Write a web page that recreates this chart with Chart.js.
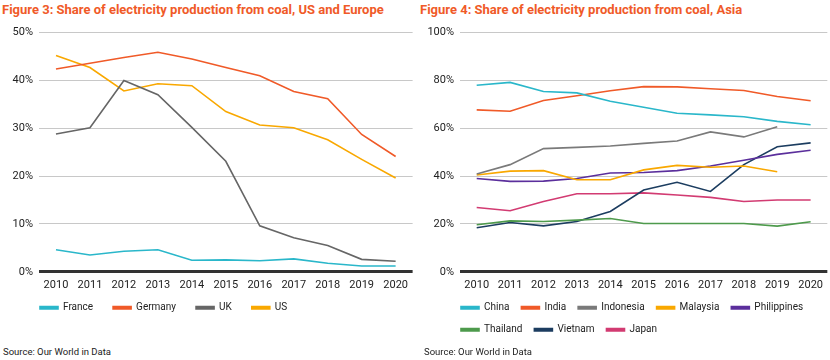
<!DOCTYPE html>
<html>
<head>
<meta charset="utf-8">
<script src="https://cdn.jsdelivr.net/npm/chart.js@4.4.0/dist/chart.umd.min.js"></script>
<style>
  body { margin: 0; width: 830px; height: 360px; background: #fff; position: relative; overflow: hidden; font-family: Roboto, sans-serif; }
  .title { position: absolute; top: 2px; font-family: Roboto, sans-serif; font-weight: bold; font-size: 13px; color: #f05a28; white-space: nowrap; }
  .source { position: absolute; top: 346px; font-size: 9.5px; color: #222; }
  .box { position: absolute; top: 20px; width: 415px; }
</style>
</head>
<body>
<div class="title" style="left:2px">Figure 3: Share of electricity production from coal, US and Europe</div>
<div class="title" style="left:420px">Figure 4: Share of electricity production from coal, Asia</div>
<div class="box" style="left:0; height:319px"><canvas id="leftChart"></canvas></div>
<div class="box" style="left:415px; height:333px"><canvas id="rightChart"></canvas></div>
<div class="source" style="left:3px">Source: Our World in Data</div>
<div class="source" style="left:424px">Source: Our World in Data</div>
<script>
const years = ["2010", "2011", "2012", "2013", "2014", "2015", "2016", "2017", "2018", "2019", "2020"];

// Figure 3 (% share)
const france = [4.6, 3.5, 4.3, 4.6, 2.4, 2.5, 2.3, 2.7, 1.8, 1.2, 1.2];
const germany = [42.4, 43.6, 44.8, 45.9, 44.5, 42.7, 41.0, 37.7, 36.2, 28.7, 24.1];
const uk = [28.8, 30.1, 40.0, 37.0, 30.2, 23.1, 9.6, 7.1, 5.5, 2.6, 2.2];
const us = [45.2, 42.7, 37.8, 39.3, 38.9, 33.5, 30.7, 30.1, 27.6, 23.5, 19.6];

// Figure 4 (% share)
const china = [78.0, 79.2, 75.4, 74.8, 71.3, 68.8, 66.3, 65.6, 64.8, 62.9, 61.5];
const india = [67.7, 67.1, 71.6, 73.6, 75.7, 77.4, 77.3, 76.5, 75.8, 73.3, 71.5];
const indonesia = [40.9, 44.8, 51.5, 52.0, 52.6, 53.7, 54.7, 58.5, 56.4, 60.6, null];
const malaysia = [40.5, 42.1, 42.3, 38.5, 38.5, 42.6, 44.5, 43.7, 44.2, 41.8, null];
const philippines = [39.0, 37.8, 37.9, 39.0, 41.3, 41.5, 42.3, 44.2, 46.6, 49.1, 50.8];
const thailand = [19.7, 21.3, 21.0, 21.6, 22.3, 20.2, 20.2, 20.2, 20.2, 19.1, 20.9];
const vietnam = [18.4, 20.6, 19.2, 21.0, 25.2, 34.2, 37.4, 33.6, 44.8, 52.3, 53.9];
const japan = [26.9, 25.5, 29.4, 32.6, 32.6, 33.0, 32.1, 31.1, 29.4, 30.0, 30.0];

const tickFont = { family: "Roboto", size: 11 };
const legendFont = { family: "Roboto", size: 10 };

// moves the legend so its first item starts at the plot's left edge,
// and its first row sits just under the year labels
const legendNudge = {
    id: "legendNudge",
    afterLayout(chart) {
        const lg = chart.legend;
        const pad = lg.options.labels.padding;
        const dx = chart.chartArea.left + 1 - (lg.left + pad);
        const dy = chart.chartArea.bottom + 36 - (lg.top + pad + legendFont.size / 2);
        lg.left += dx;
        lg.right += dx;
        lg.top += dy;
        lg.bottom += dy;
    },
};

function line(label, data, color) {
    return {
        label: label,
        data: data,
        borderColor: color,
        backgroundColor: color,
        borderWidth: 1.6,
        pointRadius: 0,
        tension: 0,
        spanGaps: false,
    };
}

function makeOptions(max, step, yWidth, legendPad) {
    return {
        responsive: true,
        maintainAspectRatio: false,
        animation: false,
        layout: { padding: { left: 8, right: 0, top: 7, bottom: 0 } },
        plugins: {
            legend: {
                position: "bottom",
                align: "start",
                labels: {
                    boxWidth: 18,
                    boxHeight: 2.5,
                    padding: legendPad,
                    color: "#222",
                    font: legendFont,
                },
            },
            tooltip: { enabled: false },
        },
        scales: {
            x: {
                offset: true,
                grid: { display: false, drawTicks: false, tickLength: 0 },
                border: { display: false },
                ticks: { color: "#222", font: tickFont, padding: 7, maxRotation: 0 },
            },
            y: {
                min: 0,
                max: max,
                afterFit: (scale) => { scale.width = yWidth; },
                border: { display: false },
                grid: {
                    drawTicks: false,
                    color: (ctx) => (ctx.tick && ctx.tick.value === 0 ? "#333" : "#c8c8c8"),
                    lineWidth: (ctx) => (ctx.tick && ctx.tick.value === 0 ? 3 : 1),
                },
                ticks: {
                    stepSize: step,
                    padding: 6,
                    color: "#222",
                    font: tickFont,
                    callback: (v) => v + "%",
                },
            },
        },
    };
}

new Chart(document.getElementById("leftChart").getContext("2d"), {
    type: "line",
    data: {
        labels: years,
        datasets: [
            line("France", france, "#2ab7ca"),
            line("Germany", germany, "#f05a28"),
            line("UK", uk, "#666666"),
            line("US", us, "#f9a800"),
        ],
    },
    options: makeOptions(50, 10, 31, 20),
    plugins: [legendNudge],
});

new Chart(document.getElementById("rightChart").getContext("2d"), {
    type: "line",
    data: {
        labels: years,
        datasets: [
            line("China", china, "#2ab7ca"),
            line("India", india, "#f05a28"),
            line("Indonesia", indonesia, "#7a7a7a"),
            line("Malaysia", malaysia, "#f9a800"),
            line("Philippines", philippines, "#5b2f9c"),
            line("Thailand", thailand, "#4e9a4c"),
            line("Vietnam", vietnam, "#1c3d60"),
            line("Japan", japan, "#d23b72"),
        ],
    },
    options: makeOptions(100, 20, 37, 12),
    plugins: [legendNudge],
});
</script>
</body>
</html>
